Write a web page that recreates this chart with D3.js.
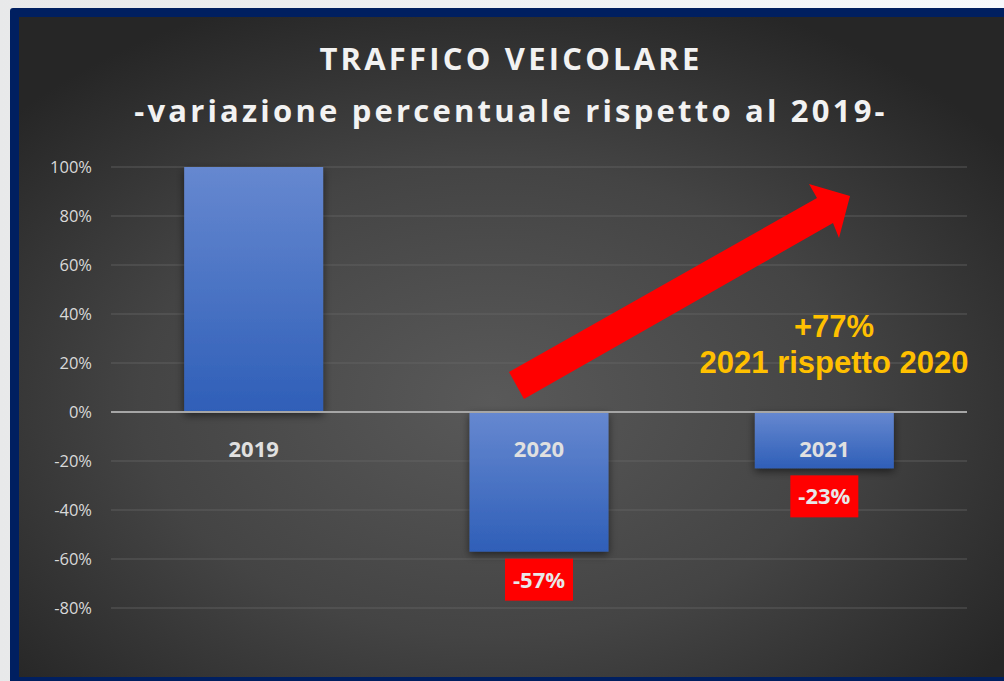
<!DOCTYPE html>
<html>
<head>
<meta charset="utf-8">
<script src="https://cdn.jsdelivr.net/npm/d3@7"></script>
<style>
  html, body { margin: 0; padding: 0; background: #f4f6f8; }
  svg { display: block; }
</style>
</head>
<body>
<div id="chart"></div>
<script>
// chart data
var years = ["2019", "2020", "2021"];
var values = [100, -57, -23];
var valueLabels = ["", "-57%", "-23%"];
var yTicks = [100, 80, 60, 40, 20, 0, -20, -40, -60, -80];
var titleLines = ["TRAFFICO VEICOLARE", "-variazione percentuale rispetto al 2019-"];
var noteLines = ["+77%", "2021 rispetto 2020"];

var svgWidth = 1004;
var svgHeight = 681;

var svg = d3.select("#chart")
  .append("svg")
  .attr("width", svgWidth)
  .attr("height", svgHeight);

var defs = svg.append("defs");

// outer light background
var outerGrad = defs.append("linearGradient").attr("id", "outerGrad")
  .attr("x1", 0).attr("y1", 0).attr("x2", 1).attr("y2", 0);
outerGrad.append("stop").attr("offset", "0%").attr("stop-color", "#e8e9ea");
outerGrad.append("stop").attr("offset", "100%").attr("stop-color", "#f6f9fc");
svg.append("rect").attr("width", svgWidth).attr("height", svgHeight).attr("fill", "url(#outerGrad)");

// dark panel background
var panelGrad = defs.append("radialGradient").attr("id", "panelGrad")
  .attr("cx", "48%").attr("cy", "58%").attr("r", "65%");
panelGrad.append("stop").attr("offset", "0%").attr("stop-color", "#595959");
panelGrad.append("stop").attr("offset", "55%").attr("stop-color", "#444444");
panelGrad.append("stop").attr("offset", "100%").attr("stop-color", "#262626");

svg.append("rect")
  .attr("x", 10).attr("y", 8)
  .attr("width", svgWidth).attr("height", svgHeight)
  .attr("rx", 3)
  .attr("fill", "#001f60");
svg.append("rect")
  .attr("x", 19).attr("y", 17)
  .attr("width", svgWidth - 19).attr("height", 660)
  .attr("fill", "url(#panelGrad)");

// bar gradient + shadow
var barGrad = defs.append("linearGradient").attr("id", "barGrad")
  .attr("x1", 0).attr("y1", 0).attr("x2", 0).attr("y2", 1);
barGrad.append("stop").attr("offset", "0%").attr("stop-color", "#6688d0");
barGrad.append("stop").attr("offset", "100%").attr("stop-color", "#2f5fb8");

var shadow = defs.append("filter").attr("id", "shadow")
  .attr("x", "-20%").attr("y", "-20%").attr("width", "140%").attr("height", "140%");
shadow.append("feDropShadow")
  .attr("dx", 0).attr("dy", 3).attr("stdDeviation", 4)
  .attr("flood-color", "#000").attr("flood-opacity", 0.55);

// scales
var xScale = d3.scaleBand()
  .domain(years)
  .range([111, 967])
  .paddingInner(0.513)
  .paddingOuter(0.2565);

var yScale = d3.scaleLinear()
  .domain([-80, 100])
  .range([608, 167]);

// grid lines
svg.append("g")
  .selectAll("line")
  .data(yTicks.filter(d => d !== 0))
  .enter()
  .append("line")
  .attr("x1", 111).attr("x2", 967)
  .attr("y1", d => yScale(d)).attr("y2", d => yScale(d))
  .attr("stroke", "#6a6a6a")
  .attr("stroke-opacity", 0.7)
  .attr("stroke-width", 1.2);

// y axis labels
var leftAxis = d3.axisLeft(yScale)
  .tickValues(yTicks)
  .tickSize(0)
  .tickPadding(0)
  .tickFormat(d => d + "%");

var yAxis = svg.append("g")
  .attr("transform", "translate(92,0)")
  .call(leftAxis);
yAxis.select(".domain").remove();
yAxis.attr("font-size", null).attr("font-family", null);
yAxis.selectAll("text")
  .attr("fill", "#d9d9d9")
  .style("font-family", "'Open Sans', sans-serif")
  .style("font-size", "16.5px");

// bars
svg.append("g")
  .selectAll("rect")
  .data(values)
  .enter()
  .append("rect")
  .attr("x", (d, i) => xScale(years[i]))
  .attr("y", d => yScale(Math.max(d, 0)))
  .attr("width", xScale.bandwidth())
  .attr("height", d => Math.abs(yScale(d) - yScale(0)))
  .attr("fill", "url(#barGrad)")
  .attr("filter", "url(#shadow)");

// zero line
svg.append("line")
  .attr("x1", 111).attr("x2", 967)
  .attr("y1", yScale(0)).attr("y2", yScale(0))
  .attr("stroke", "#a6a6a6")
  .attr("stroke-width", 2);

// category labels (under zero line)
svg.append("g")
  .selectAll("text")
  .data(years)
  .enter()
  .append("text")
  .attr("x", d => xScale(d) + xScale.bandwidth() / 2)
  .attr("y", yScale(0) + 45)
  .attr("text-anchor", "middle")
  .attr("fill", "#e0e0e0")
  .attr("font-family", "'Open Sans', sans-serif")
  .attr("font-weight", "bold")
  .attr("font-size", "22px")
  .text(d => d);

// red value boxes
var valueGroup = svg.append("g")
  .selectAll("g")
  .data(values.map((v, i) => ({ v: v, label: valueLabels[i], year: years[i] })).filter(d => d.label !== ""))
  .enter()
  .append("g")
  .attr("transform", d => `translate(${xScale(d.year) + xScale.bandwidth() / 2}, ${yScale(d.v) + 7})`);

valueGroup.append("rect")
  .attr("x", -34).attr("y", 0)
  .attr("width", 68).attr("height", 42)
  .attr("fill", "#ff0000");

valueGroup.append("text")
  .attr("x", 0).attr("y", 29)
  .attr("text-anchor", "middle")
  .attr("fill", "#e8e8e8")
  .attr("font-family", "'Open Sans', sans-serif")
  .attr("font-weight", "bold")
  .attr("font-size", "22px")
  .text(d => d.label);

// red arrow
svg.append("path")
  .attr("d", "M509,372 L817,198 L809,184 L850,196 L839,238 L833,223 L524,399 Z")
  .attr("fill", "#ff0000");

// annotation
svg.append("g")
  .selectAll("text")
  .data(noteLines)
  .enter()
  .append("text")
  .attr("x", 834)
  .attr("y", (d, i) => 337 + i * 36)
  .attr("text-anchor", "middle")
  .attr("fill", "#ffc000")
  .attr("font-family", "'Liberation Sans', Arial, sans-serif")
  .attr("font-weight", "bold")
  .attr("font-size", "31px")
  .text(d => d);

// title
svg.append("g")
  .selectAll("text")
  .data(titleLines)
  .enter()
  .append("text")
  .attr("x", 511)
  .attr("y", (d, i) => 70 + i * 52)
  .attr("text-anchor", "middle")
  .attr("fill", "#f2f2f2")
  .attr("font-family", "'Open Sans', sans-serif")
  .attr("font-weight", "bold")
  .attr("font-size", "31px")
  .attr("letter-spacing", "3.2px")
  .text(d => d);
</script>
</body>
</html>
